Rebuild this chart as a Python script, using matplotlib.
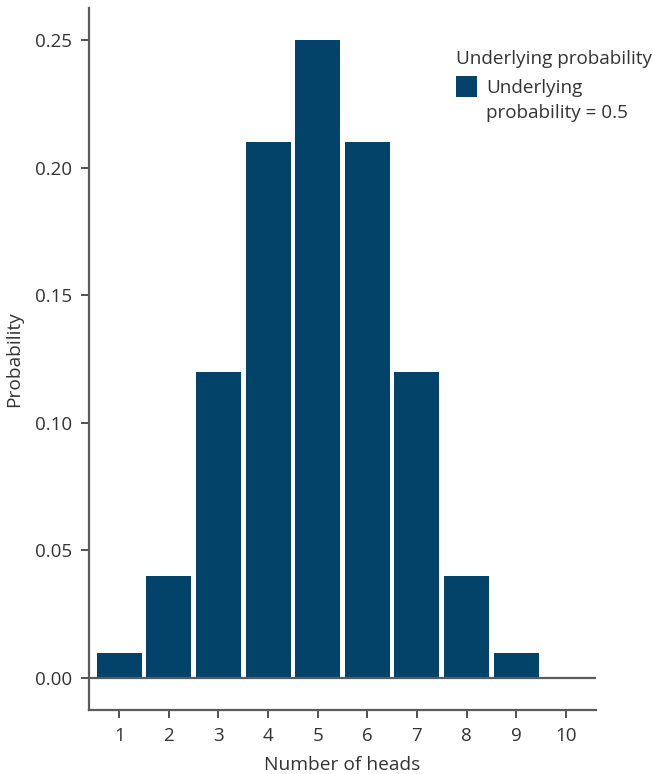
import matplotlib
matplotlib.use("Agg")
import matplotlib.pyplot as plt
from matplotlib.patches import Patch, Rectangle
from matplotlib.legend_handler import HandlerPatch

plt.rcParams['font.family'] = ['Open Sans', 'DejaVu Sans']

heads = [1, 2, 3, 4, 5, 6, 7, 8, 9, 10]
probability = [0.01, 0.04, 0.12, 0.21, 0.25, 0.21, 0.12, 0.04, 0.01, 0.0]
yticks = [0.00, 0.05, 0.10, 0.15, 0.20, 0.25]
series_label = "Underlying\nprobability = 0.5"
legend_title = "Underlying probability"

bar_color = "#03436a"
axis_color = "#5a5a5a"
text_color = "#333333"

fig = plt.figure(figsize=(6.53, 7.74), dpi=100)
ax = fig.add_axes([89 / 653, 64 / 774, (596 - 89) / 653, (710 - 8) / 774])

ax.bar(heads, probability, width=0.91, color=bar_color, zorder=2)
ax.axhline(0, color=axis_color, lw=1.6, zorder=3)

ax.set_xlim(0.39, 10.61)
ax.set_ylim(-0.0125, 0.2625)
ax.set_xticks(heads)
ax.set_yticks(yticks)
ax.set_yticklabels([f"{v:.2f}" for v in yticks])

for side in ("top", "right"):
    ax.spines[side].set_visible(False)
for side in ("left", "bottom"):
    ax.spines[side].set_color(axis_color)
    ax.spines[side].set_linewidth(1.6)

ax.tick_params(axis="both", length=6, width=1.2, color=text_color,
               labelsize=13.5, labelcolor=text_color, pad=6)

ax.set_xlabel("Number of heads", fontsize=13.8, color=text_color, labelpad=8)
ax.set_ylabel("Probability", fontsize=13.8, color=text_color, labelpad=9)


def top_square(legend, orig_handle, xdescent, ydescent, width, height, fontsize):
    # square key sitting level with the first line of a two-line label
    size = 15.5
    return Rectangle((-xdescent, -ydescent + height - size + 10), size, size)


handle = Patch(facecolor=bar_color, edgecolor="none")
leg = fig.legend([handle], [series_label], title=legend_title,
                 loc="upper left", bbox_to_anchor=(452 / 653, 1 - 46 / 774),
                 frameon=False, fontsize=13.6, title_fontsize=13.6,
                 handlelength=1.15, handleheight=1.5, handletextpad=0.45,
                 borderaxespad=0, borderpad=0.2, labelcolor=text_color,
                 labelspacing=0.3,
                 handler_map={Patch: HandlerPatch(patch_func=top_square)})
leg._legend_box.align = "left"
leg._legend_box.sep = 8
leg.get_title().set_color(text_color)
for t in leg.get_texts():
    t.set_linespacing(1.52)

fig.savefig("out.png", dpi=100)
